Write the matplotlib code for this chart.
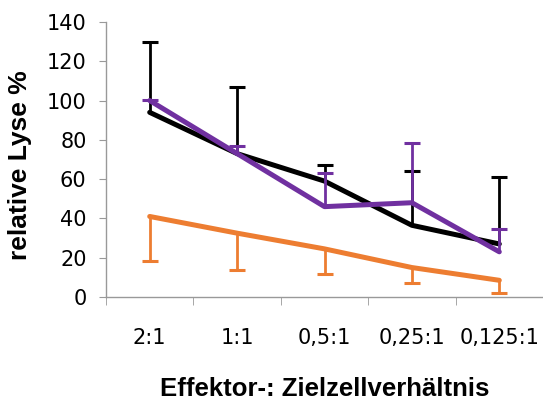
import numpy as np
import matplotlib
matplotlib.use("Agg")
import matplotlib.pyplot as plt

categories = ["2:1", "1:1", "0,5:1", "0,25:1", "0,125:1"]

black_vals = [94, 73, 59, 36.5, 27]
black_err_up = [36, 34, 8, 27.5, 34]

purple_vals = [100, 73, 46, 48, 23]
purple_err_up = [0.5, 4, 17, 30.5, 11.5]

orange_vals = [41, 32.5, 24.5, 15, 8.5]
orange_err_down = [22.5, 18.5, 13, 7.7, 6.6]

x = np.arange(len(categories))

fig = plt.figure(figsize=(5.43, 4.01), dpi=100)
ax = fig.add_axes([106 / 543, 1 - 297 / 401, 437 / 543, 275 / 401])


def one_sided(vals, err, direction, color, z):
    vals = np.array(vals)
    ends = vals + direction * np.array(err)
    ax.vlines(x, vals, ends, color=color, lw=2, zorder=z)
    ax.plot(x, ends, ls="none", marker="_", ms=12, mew=2.2, color=color, zorder=z)
    ax.plot(x, vals, color=color, lw=3.6, solid_capstyle="round",
            solid_joinstyle="round", zorder=z)


one_sided(orange_vals, orange_err_down, -1, "#ED7D31", 2)
one_sided(black_vals, black_err_up, 1, "black", 3)
one_sided(purple_vals, purple_err_up, 1, "#7030A0", 4)

ax.set_xlim(-0.5, 4.5)
ax.set_ylim(0, 140)
ax.set_yticks(range(0, 141, 20))

ax.set_xticks(x)
ax.set_xticklabels(categories)
ax.set_xticks(np.arange(-0.5, 4.6, 1), minor=True)
ax.tick_params(axis="x", which="major", length=0, pad=22, labelsize=15)
ax.tick_params(axis="x", which="minor", length=6, color="#999999")
ax.tick_params(axis="y", length=5, color="#999999", labelsize=15, pad=9)

for s in ["top", "right"]:
    ax.spines[s].set_visible(False)
for s in ["left", "bottom"]:
    ax.spines[s].set_color("#999999")
    ax.spines[s].set_linewidth(1)

ax.set_ylabel("relative Lyse %", fontsize=19, fontweight="bold",
              family="Liberation Sans")
ax.yaxis.set_label_coords(-74 / 437, 0.48)
ax.set_xlabel("Effektor-: Zielzellverhältnis", fontsize=18.5, fontweight="bold",
              family="Liberation Sans")
ax.xaxis.set_label_coords(0.5, -80 / 275)

fig.savefig("out.png", dpi=100)
